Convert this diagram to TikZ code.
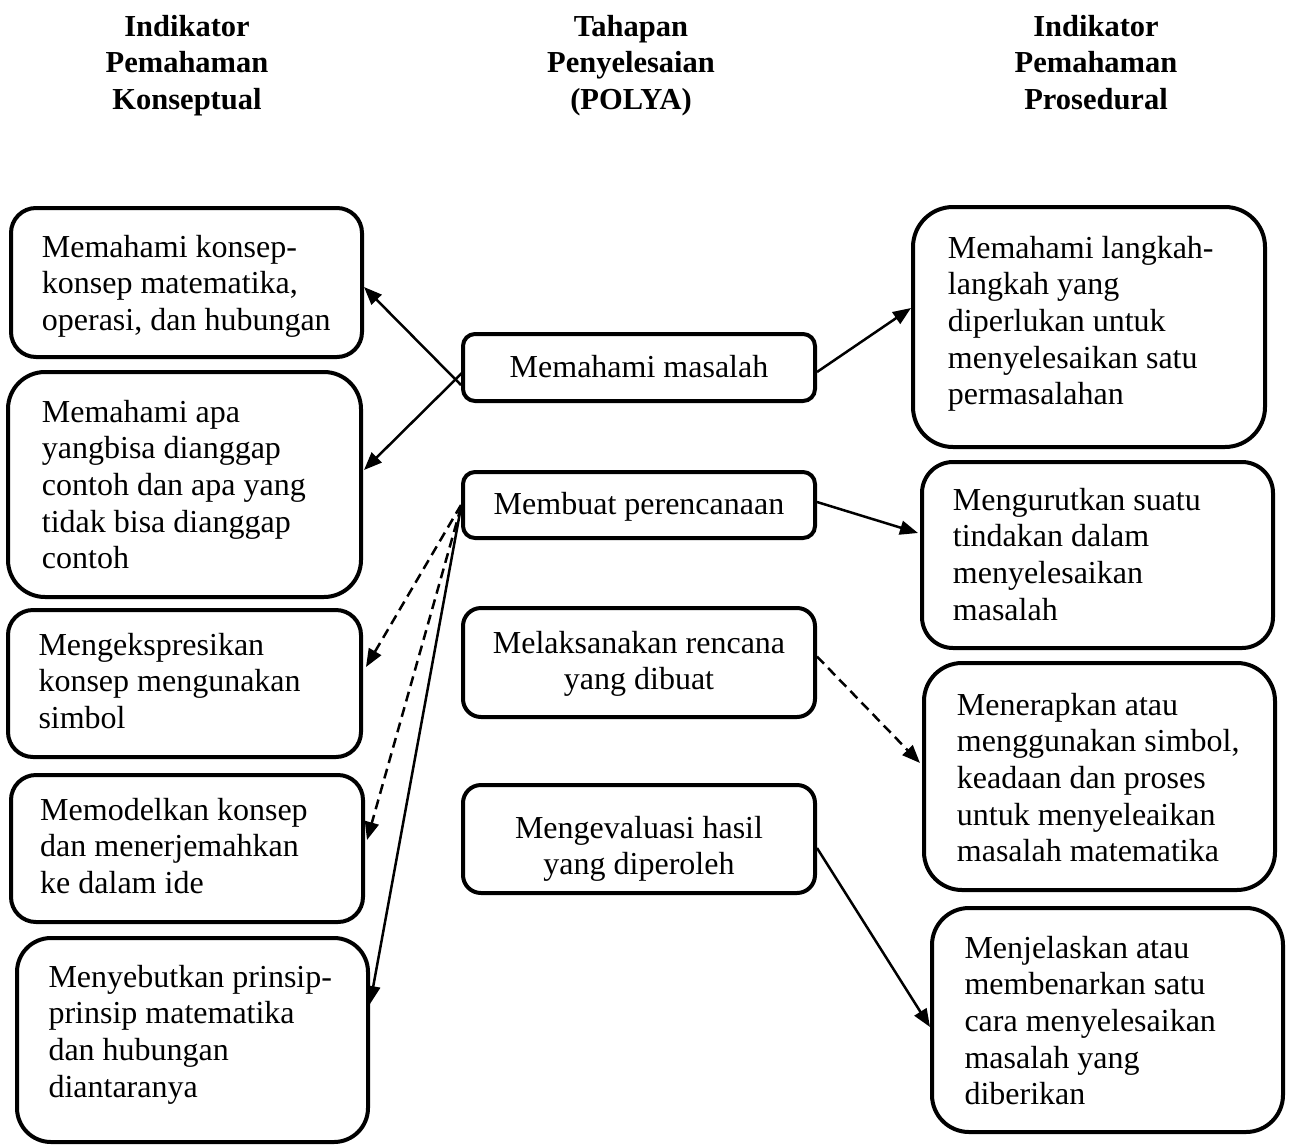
\documentclass[tikz,border=0pt]{standalone}
\usepackage{fontspec}
\setmainfont{Liberation Serif}
\usetikzlibrary{calc,arrows.meta}
\newcommand\leftlines[1]{\vtop{\baselineskip=36.7pt\halign{##\hfil\cr#1\crcr}}}
\newcommand\midlines[1]{\vtop{\baselineskip=36.7pt\halign{\hfil##\hfil\cr#1\crcr}}}
\tikzset{
  box/.style={draw, line width=4pt, inner sep=0pt, fill=none},
  txt/.style={inner sep=0pt, anchor=base west, font=\fontsize{32}{36.7}\selectfont},
  mtxt/.style={inner sep=0pt, anchor=base, font=\fontsize{32}{36.7}\selectfont},
  hdr/.style={inner sep=0pt, anchor=base, font=\fontsize{30.5}{36.5}\selectfont\bfseries},
  conn/.style={line width=2.5pt, -{Triangle[length=18pt,width=14pt]}},
  dconn/.style={conn, dash pattern=on 10pt off 6pt},
}
\begin{document}
\begin{tikzpicture}[x=1pt,y=-1pt]
\useasboundingbox (0,0) rectangle (1290,1146);
% headers
\node[hdr] (h1) at (187,36) {\midlines{Indikator\cr Pemahaman\cr Konseptual}};
\node[hdr] (h2) at (631,36) {\midlines{Tahapan\cr Penyelesaian\cr (POLYA)}};
\node[hdr] (h3) at (1096,36) {\midlines{Indikator\cr Pemahaman\cr Prosedural}};
% left boxes
\node[box, minimum width=351pt, minimum height=149pt, rounded corners=25pt] (l1) at (186.5,282.5) {};
\node[box, minimum width=353pt, minimum height=225pt, rounded corners=37pt] (l2) at (184.5,484.5) {};
\node[box, minimum width=353pt, minimum height=147pt, rounded corners=25pt] (l3) at (184.5,683.5) {};
\node[box, minimum width=352pt, minimum height=147pt, rounded corners=25pt] (l4) at (187,848.5) {};
\node[box, minimum width=351pt, minimum height=204pt, rounded corners=34pt] (l5) at (192.5,1040) {};
\node[txt] (l1t) at (41.7,257) {\leftlines{Memahami konsep-\cr konsep matematika,\cr operasi, dan hubungan}};
\node[txt] (l2t) at (41.7,422) {\leftlines{Memahami apa\cr yangbisa dianggap\cr contoh dan apa yang\cr tidak bisa dianggap\cr contoh}};
\node[txt] (l3t) at (38.3,655) {\leftlines{Mengekspresikan\cr konsep mengunakan\cr simbol}};
\node[txt] (l4t) at (40,820) {\leftlines{Memodelkan konsep\cr dan menerjemahkan\cr ke dalam ide}};
\node[txt] (l5t) at (48.3,987) {\leftlines{Menyebutkan prinsip-\cr prinsip matematika\cr dan hubungan\cr diantaranya}};
% middle boxes
\node[box, minimum width=352pt, minimum height=67pt, rounded corners=12pt] (m1) at (639,367.5) {};
\node[box, minimum width=352pt, minimum height=66pt, rounded corners=12pt] (m2) at (639,505) {};
\node[box, minimum width=352pt, minimum height=109pt, rounded corners=18pt] (m3) at (639,662.5) {};
\node[box, minimum width=352pt, minimum height=108pt, rounded corners=18pt] (m4) at (639,839) {};
\node[mtxt] (m1t) at (639,377) {\midlines{Memahami masalah}};
\node[mtxt] (m2t) at (639,514) {\midlines{Membuat perencanaan}};
\node[mtxt] (m3t) at (639,653) {\midlines{Melaksanakan rencana\cr yang dibuat}};
\node[mtxt] (m4t) at (639,838) {\midlines{Mengevaluasi hasil\cr yang diperoleh}};
% right boxes
\node[box, minimum width=352pt, minimum height=240pt, rounded corners=40pt] (r1) at (1089,327) {};
\node[box, minimum width=351pt, minimum height=186pt, rounded corners=31pt] (r2) at (1097.5,555) {};
\node[box, minimum width=351pt, minimum height=227pt, rounded corners=38pt] (r3) at (1099.5,776.5) {};
\node[box, minimum width=351pt, minimum height=224pt, rounded corners=37pt] (r4) at (1107.5,1020) {};
\node[txt] (r1t) at (947.7,258) {\leftlines{Memahami langkah-\cr langkah yang\cr diperlukan untuk\cr menyelesaikan satu\cr permasalahan}};
\node[txt] (r2t) at (952.7,510) {\leftlines{Mengurutkan suatu\cr tindakan dalam\cr menyelesaikan\cr masalah}};
\node[txt] (r3t) at (956.7,715) {\leftlines{Menerapkan atau\cr menggunakan simbol,\cr keadaan dan proses\cr untuk menyeleaikan\cr masalah matematika}};
\node[txt] (r4t) at (964.3,958) {\leftlines{Menjelaskan atau\cr membenarkan satu\cr cara menyelesaikan\cr masalah yang\cr diberikan}};
% connectors
\draw[conn] ($(m1.west)+(0,17.5)$) -- ($(l1.east)+(0,4.5)$);
\draw[conn] ($(m1.west)+(2,4.5)$) -- ($(l2.east)+(1,-14.5)$);
\draw[conn] ($(m1.east)+(0,4.5)$) -- ($(r1.west)+(0,-19)$);
\draw[conn] ($(m2.east)+(0,-3)$) -- ($(r2.west)+(-2,-22)$);
\draw[dconn] ($(m3.east)+(0,-6)$) -- ($(r3.west)+(-2,-13.5)$);
\draw[conn] ($(m4.east)+(0,9)$) -- ($(r4.west)+(0,7)$);
\draw[dconn] ($(m2.west)+(0,0)$) -- ($(l3.east)+(3,-16.5)$);
\draw[dconn] ($(m2.west)+(0,2)$) -- ($(l4.east)+(2,-8.5)$);
\draw[conn] ($(m2.west)+(0,2)$) -- ($(l5.east)+(0,-36)$);
\end{tikzpicture}
\end{document}
